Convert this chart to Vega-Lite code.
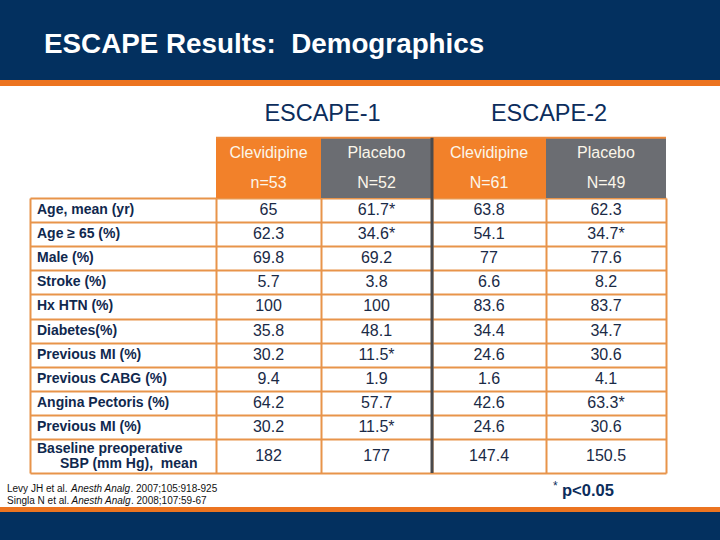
{
  "$schema": "https://vega.github.io/schema/vega-lite/v6.json",
  "width": 636,
  "height": 275,
  "autosize": {"type": "none"},
  "padding": {"left": 30, "top": 198, "right": 54, "bottom": 67},
  "background": "white",
  "config": {"view": {"stroke": null}, "font": "Liberation Sans"},
  "data": {
    "values": [
      {"row": 0, "label": "Age, mean (yr)", "e1c": "65", "e1p": "61.7*", "e2c": "63.8", "e2p": "62.3"},
      {"row": 1, "label": "Age ≥ 65 (%)", "e1c": "62.3", "e1p": "34.6*", "e2c": "54.1", "e2p": "34.7*"},
      {"row": 2, "label": "Male (%)", "e1c": "69.8", "e1p": "69.2", "e2c": "77", "e2p": "77.6"},
      {"row": 3, "label": "Stroke (%)", "e1c": "5.7", "e1p": "3.8", "e2c": "6.6", "e2p": "8.2"},
      {"row": 4, "label": "Hx HTN (%)", "e1c": "100", "e1p": "100", "e2c": "83.6", "e2p": "83.7"},
      {"row": 5, "label": "Diabetes(%)", "e1c": "35.8", "e1p": "48.1", "e2c": "34.4", "e2p": "34.7"},
      {"row": 6, "label": "Previous MI (%)", "e1c": "30.2", "e1p": "11.5*", "e2c": "24.6", "e2p": "30.6"},
      {"row": 7, "label": "Previous CABG (%)", "e1c": "9.4", "e1p": "1.9", "e2c": "1.6", "e2p": "4.1"},
      {"row": 8, "label": "Angina Pectoris (%)", "e1c": "64.2", "e1p": "57.7", "e2c": "42.6", "e2p": "63.3*"},
      {"row": 9, "label": "Previous MI (%)", "e1c": "30.2", "e1p": "11.5*", "e2c": "24.6", "e2p": "30.6"},
      {"row": 10, "label": "Baseline preoperative", "label2": "SBP (mm Hg),\u00a0 mean", "e1c": "182", "e1p": "177", "e2c": "147.4", "e2p": "150.5"}
    ]
  },
  "layer": [
    {
      "data": {"values": [{"part": "top banner"}]},
      "mark": {"type": "rect", "color": "#03305f"},
      "encoding": {
        "x": {"datum": -1, "type": "quantitative", "scale": {"domain": [0, 1, 2, 3, 4, 5], "range": [0, 186, 291, 402, 516, 636], "nice": false, "zero": false}},
        "x2": {"datum": 6},
        "y": {"datum": -9, "type": "quantitative", "scale": {"domain": [-0.5, 9.5, 10.5], "range": [0, 241, 275], "nice": false, "zero": false}},
        "y2": {"datum": -5.4}
      }
    },
    {
      "data": {"values": [{"part": "top stripe"}]},
      "mark": {"type": "rect", "color": "#ec7420"},
      "encoding": {"x": {"datum": -1, "type": "quantitative"}, "x2": {"datum": 6}, "y": {"datum": -5.4, "type": "quantitative"}, "y2": {"datum": -5.15}}
    },
    {
      "data": {"values": [{"part": "bottom stripe"}]},
      "mark": {"type": "rect", "color": "#ec7420"},
      "encoding": {"x": {"datum": -1, "type": "quantitative"}, "x2": {"datum": 6}, "y": {"datum": 11.5, "type": "quantitative"}, "y2": {"datum": 11.65}}
    },
    {
      "data": {"values": [{"part": "bottom banner"}]},
      "mark": {"type": "rect", "color": "#03305f"},
      "encoding": {"x": {"datum": -1, "type": "quantitative"}, "x2": {"datum": 6}, "y": {"datum": 11.65, "type": "quantitative"}, "y2": {"datum": 12.5}}
    },
    {
      "data": {"values": [{"t": "ESCAPE Results:\u00a0 Demographics"}]},
      "mark": {"type": "text", "fontSize": 27.8, "fontWeight": "bold", "color": "#ffffff", "align": "left", "baseline": "alphabetic", "dx": 14},
      "encoding": {"x": {"datum": 0, "type": "quantitative"}, "y": {"datum": -6.5, "type": "quantitative"}, "text": {"field": "t", "type": "nominal"}}
    },
    {
      "data": {"values": [{"t": "ESCAPE-1"}]},
      "mark": {"type": "text", "fontSize": 23.5, "color": "#0c2d5c", "align": "center", "baseline": "middle", "dx": 1.5},
      "encoding": {"x": {"datum": 2, "type": "quantitative"}, "y": {"datum": -4, "type": "quantitative"}, "text": {"field": "t", "type": "nominal"}}
    },
    {
      "data": {"values": [{"t": "ESCAPE-2"}]},
      "mark": {"type": "text", "fontSize": 23.5, "color": "#0c2d5c", "align": "center", "baseline": "middle", "dx": 3},
      "encoding": {"x": {"datum": 4, "type": "quantitative"}, "y": {"datum": -4, "type": "quantitative"}, "text": {"field": "t", "type": "nominal"}}
    },
    {
      "data": {"values": [{"arm": "Clevidipine", "study": "ESCAPE-1"}]},
      "mark": {"type": "rect", "color": "#f2812a"},
      "encoding": {"x": {"datum": 1, "type": "quantitative"}, "x2": {"datum": 2}, "y": {"datum": -3, "type": "quantitative"}, "y2": {"datum": -0.5}}
    },
    {
      "data": {"values": [{"arm": "Placebo", "study": "ESCAPE-1"}]},
      "mark": {"type": "rect", "color": "#6b6d72"},
      "encoding": {"x": {"datum": 2, "type": "quantitative"}, "x2": {"datum": 3}, "y": {"datum": -3, "type": "quantitative"}, "y2": {"datum": -0.5}}
    },
    {
      "data": {"values": [{"arm": "Clevidipine", "study": "ESCAPE-2"}]},
      "mark": {"type": "rect", "color": "#f2812a"},
      "encoding": {"x": {"datum": 3, "type": "quantitative"}, "x2": {"datum": 4}, "y": {"datum": -3, "type": "quantitative"}, "y2": {"datum": -0.5}}
    },
    {
      "data": {"values": [{"arm": "Placebo", "study": "ESCAPE-2"}]},
      "mark": {"type": "rect", "color": "#6b6d72"},
      "encoding": {"x": {"datum": 4, "type": "quantitative"}, "x2": {"datum": 5}, "y": {"datum": -3, "type": "quantitative"}, "y2": {"datum": -0.5}}
    },
    {
      "data": {"values": [{"part": "header top line"}]},
      "mark": {"type": "rule", "color": "#ec8a3c", "strokeWidth": 2},
      "encoding": {"x": {"datum": 1, "type": "quantitative"}, "x2": {"datum": 5}, "y": {"datum": -3, "type": "quantitative"}}
    },
    {
      "data": {"values": [{"h": ["Clevidipine", "n=53"]}]},
      "mark": {"type": "text", "fontSize": 16, "color": "#fbf6ea", "align": "center", "baseline": "middle", "lineHeight": 30},
      "encoding": {"x": {"datum": 1.5, "type": "quantitative"}, "y": {"datum": -2.37, "type": "quantitative"}, "text": {"field": "h", "type": "nominal"}}
    },
    {
      "data": {"values": [{"h": ["Placebo", "N=52"]}]},
      "mark": {"type": "text", "fontSize": 16, "color": "#fbf6ea", "align": "center", "baseline": "middle", "lineHeight": 30},
      "encoding": {"x": {"datum": 2.5, "type": "quantitative"}, "y": {"datum": -2.37, "type": "quantitative"}, "text": {"field": "h", "type": "nominal"}}
    },
    {
      "data": {"values": [{"h": ["Clevidipine", "N=61"]}]},
      "mark": {"type": "text", "fontSize": 16, "color": "#fbf6ea", "align": "center", "baseline": "middle", "lineHeight": 30},
      "encoding": {"x": {"datum": 3.5, "type": "quantitative"}, "y": {"datum": -2.37, "type": "quantitative"}, "text": {"field": "h", "type": "nominal"}}
    },
    {
      "data": {"values": [{"h": ["Placebo", "N=49"]}]},
      "mark": {"type": "text", "fontSize": 16, "color": "#fbf6ea", "align": "center", "baseline": "middle", "lineHeight": 30},
      "encoding": {"x": {"datum": 4.5, "type": "quantitative"}, "y": {"datum": -2.37, "type": "quantitative"}, "text": {"field": "h", "type": "nominal"}}
    },
    {
      "data": {"values": [{"part": "study separator"}]},
      "mark": {"type": "rule", "color": "#4a4a4c", "strokeWidth": 3},
      "encoding": {"x": {"datum": 3, "type": "quantitative"}, "y": {"datum": -3, "type": "quantitative"}, "y2": {"datum": 10.5}}
    },
    {
      "transform": [{"filter": {"field": "row", "lt": 10}}],
      "mark": {"type": "text", "fontSize": 14, "fontWeight": "bold", "color": "#10284e", "align": "left", "baseline": "middle", "dx": 7},
      "encoding": {
        "x": {"datum": 0, "type": "quantitative"},
        "y": {"field": "row", "type": "quantitative"},
        "text": {"field": "label", "type": "nominal"}
      }
    },
    {
      "transform": [{"filter": {"field": "row", "equal": 10}}],
      "mark": {"type": "text", "fontSize": 14, "fontWeight": "bold", "color": "#10284e", "align": "left", "baseline": "middle", "dx": 7, "dy": -7.5},
      "encoding": {
        "x": {"datum": 0, "type": "quantitative"},
        "y": {"field": "row", "type": "quantitative"},
        "text": {"field": "label", "type": "nominal"}
      }
    },
    {
      "transform": [{"filter": {"field": "row", "equal": 10}}],
      "mark": {"type": "text", "fontSize": 14, "fontWeight": "bold", "color": "#10284e", "align": "left", "baseline": "middle", "dx": 30, "dy": 7.5},
      "encoding": {
        "x": {"datum": 0, "type": "quantitative"},
        "y": {"field": "row", "type": "quantitative"},
        "text": {"field": "label2", "type": "nominal"}
      }
    },
    {
      "mark": {"type": "text", "fontSize": 16, "color": "#1a2a46", "align": "center", "baseline": "middle"},
      "encoding": {
        "x": {"datum": 1.5, "type": "quantitative", "axis": {"values": [0, 1, 2, 3, 4, 5], "tickCount": 100, "grid": true, "gridColor": "#e8944a", "gridWidth": 2, "gridOpacity": 1, "labels": false, "ticks": false, "domain": false, "title": null}},
        "y": {"field": "row", "type": "quantitative", "axis": {"values": [-0.5, 0.5, 1.5, 2.5, 3.5, 4.5, 5.5, 6.5, 7.5, 8.5, 9.5, 10.5], "tickCount": 100, "grid": true, "gridColor": "#e8944a", "gridWidth": 2, "gridOpacity": 1, "labels": false, "ticks": false, "domain": false, "title": null}},
        "text": {"field": "e1c", "type": "nominal"}
      }
    },
    {
      "mark": {"type": "text", "fontSize": 16, "color": "#1a2a46", "align": "center", "baseline": "middle"},
      "encoding": {"x": {"datum": 2.5, "type": "quantitative"}, "y": {"field": "row", "type": "quantitative"}, "text": {"field": "e1p", "type": "nominal"}}
    },
    {
      "mark": {"type": "text", "fontSize": 16, "color": "#1a2a46", "align": "center", "baseline": "middle"},
      "encoding": {"x": {"datum": 3.5, "type": "quantitative"}, "y": {"field": "row", "type": "quantitative"}, "text": {"field": "e2c", "type": "nominal"}}
    },
    {
      "mark": {"type": "text", "fontSize": 16, "color": "#1a2a46", "align": "center", "baseline": "middle"},
      "encoding": {"x": {"datum": 4.5, "type": "quantitative"}, "y": {"field": "row", "type": "quantitative"}, "text": {"field": "e2p", "type": "nominal"}}
    },
    {
      "data": {"values": [{"t": "Levy JH et al."}]},
      "mark": {"type": "text", "fontSize": 10, "color": "#111111", "align": "left", "baseline": "middle", "dx": -23},
      "encoding": {"x": {"datum": 0, "type": "quantitative"}, "y": {"datum": 10.96, "type": "quantitative"}, "text": {"field": "t", "type": "nominal"}}
    },
    {
      "data": {"values": [{"t": "Anesth Analg"}]},
      "mark": {"type": "text", "fontSize": 10, "fontStyle": "italic", "color": "#111111", "align": "left", "baseline": "middle", "dx": 41},
      "encoding": {"x": {"datum": 0, "type": "quantitative"}, "y": {"datum": 10.96, "type": "quantitative"}, "text": {"field": "t", "type": "nominal"}}
    },
    {
      "data": {"values": [{"t": ". 2007;105:918-925"}]},
      "mark": {"type": "text", "fontSize": 10, "color": "#111111", "align": "left", "baseline": "middle", "dx": 100.5},
      "encoding": {"x": {"datum": 0, "type": "quantitative"}, "y": {"datum": 10.96, "type": "quantitative"}, "text": {"field": "t", "type": "nominal"}}
    },
    {
      "data": {"values": [{"t": "Singla N et al."}]},
      "mark": {"type": "text", "fontSize": 10, "color": "#111111", "align": "left", "baseline": "middle", "dx": -23},
      "encoding": {"x": {"datum": 0, "type": "quantitative"}, "y": {"datum": 11.32, "type": "quantitative"}, "text": {"field": "t", "type": "nominal"}}
    },
    {
      "data": {"values": [{"t": "Anesth Analg"}]},
      "mark": {"type": "text", "fontSize": 10, "fontStyle": "italic", "color": "#111111", "align": "left", "baseline": "middle", "dx": 41.5},
      "encoding": {"x": {"datum": 0, "type": "quantitative"}, "y": {"datum": 11.32, "type": "quantitative"}, "text": {"field": "t", "type": "nominal"}}
    },
    {
      "data": {"values": [{"t": ". 2008;107:59-67"}]},
      "mark": {"type": "text", "fontSize": 10, "color": "#111111", "align": "left", "baseline": "middle", "dx": 101},
      "encoding": {"x": {"datum": 0, "type": "quantitative"}, "y": {"datum": 11.32, "type": "quantitative"}, "text": {"field": "t", "type": "nominal"}}
    },
    {
      "data": {"values": [{"t": "*"}]},
      "mark": {"type": "text", "fontSize": 12, "color": "#0c2d5c", "align": "left", "baseline": "middle", "dx": 7},
      "encoding": {"x": {"datum": 4, "type": "quantitative"}, "y": {"datum": 10.88, "type": "quantitative"}, "text": {"field": "t", "type": "nominal"}}
    },
    {
      "data": {"values": [{"t": "p<0.05"}]},
      "mark": {"type": "text", "fontSize": 16.5, "fontWeight": "bold", "color": "#0c2d5c", "align": "left", "baseline": "middle", "dx": 16},
      "encoding": {"x": {"datum": 4, "type": "quantitative"}, "y": {"datum": 11.03, "type": "quantitative"}, "text": {"field": "t", "type": "nominal"}}
    }
  ]
}
